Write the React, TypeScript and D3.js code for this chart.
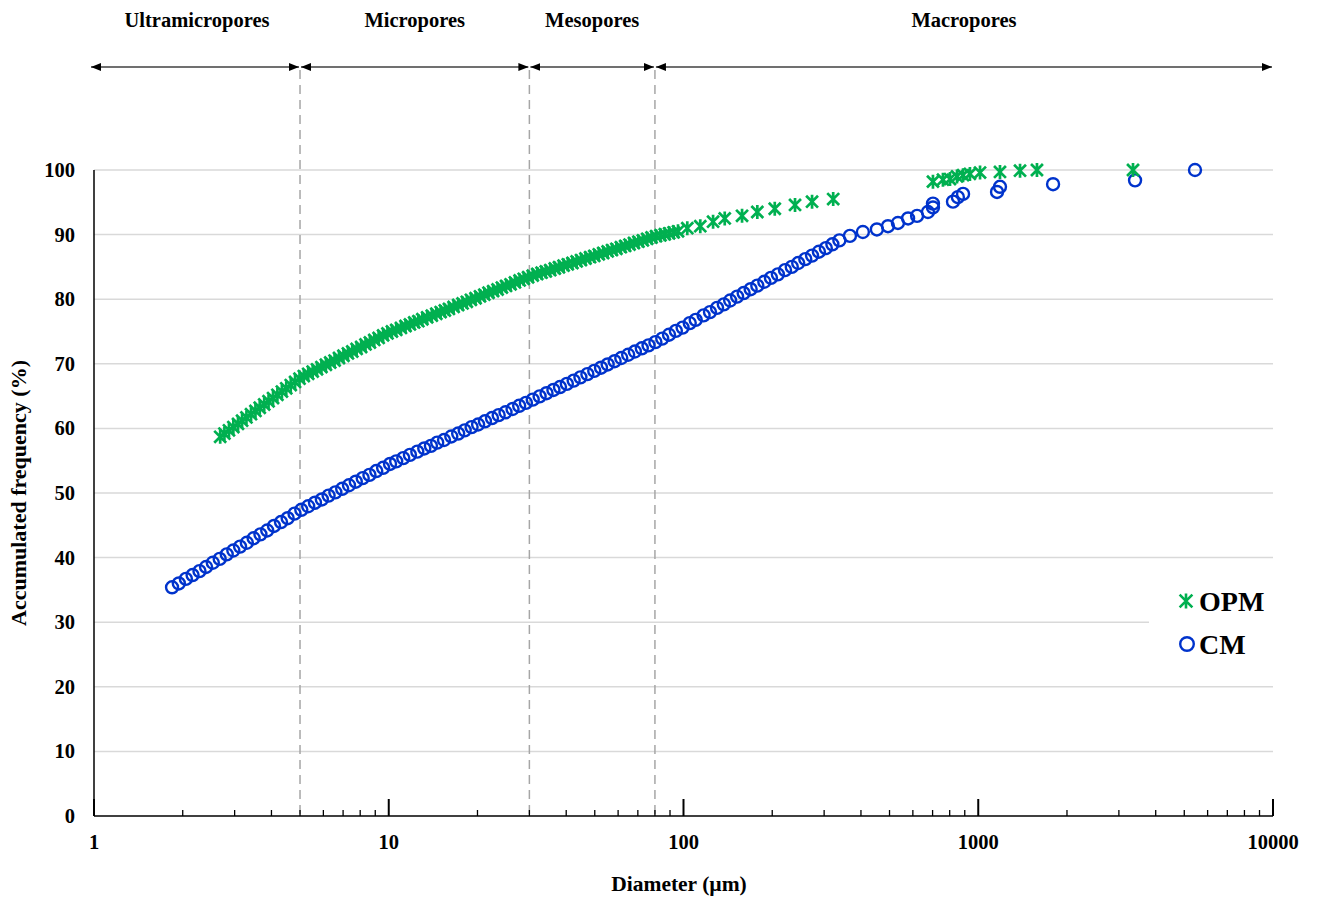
import React from "react";
import * as d3 from "d3";

const W = 1317;
const H = 902;

const cmDiameter = [
  1.84, 1.94, 2.05, 2.16, 2.28, 2.4, 2.53, 2.67, 2.82, 2.97, 3.13, 3.3, 3.48, 3.67, 3.87, 4.08, 4.31, 4.54, 4.79, 5.05,
  5.33, 5.62, 5.93, 6.25, 6.59, 6.95, 7.33, 7.73, 8.16, 8.6, 9.07, 9.57,
  10.1, 10.6, 11.2, 11.8, 12.5, 13.2, 13.9, 14.6, 15.4, 16.3, 17.2, 18.1, 19.1, 20.1, 21.2, 22.4, 23.6, 24.9, 26.3, 27.7, 29.2,
  30.8, 32.5, 34.3, 36.2, 38.1, 40.2, 42.4, 44.7, 47.2, 49.8, 52.5, 55.3, 58.4, 61.5, 64.9, 68.4, 72.2, 76.1,
  80.3, 84.7, 89.3, 94.2, 99.3, 105, 110, 117, 123, 130, 137, 144, 152,
  160, 169, 178, 188, 198, 209, 221, 233, 245, 259, 273, 288, 304, 320, 338,
  367, 406, 453, 494, 534, 578, 620, 675, 702, 702, 821, 853, 888, 1158, 1185, 1794, 3404, 5437,
];
const cmFrequency = [
  35.4, 36.0, 36.7, 37.3, 37.9, 38.55, 39.2, 39.8, 40.5, 41.1, 41.7, 42.3, 43.0, 43.6, 44.2, 44.9, 45.5, 46.1, 46.8, 47.4,
  47.95, 48.5, 49.0, 49.6, 50.1, 50.65, 51.2, 51.75, 52.3, 52.8, 53.4, 53.9,
  54.5, 54.9, 55.4, 55.9, 56.4, 56.9, 57.3, 57.8, 58.2, 58.75, 59.2, 59.7, 60.2, 60.6, 61.1, 61.6, 62.05, 62.5, 63.0, 63.5, 63.95,
  64.45, 64.95, 65.45, 65.95, 66.4, 66.9, 67.4, 67.9, 68.4, 68.9, 69.4, 69.9, 70.4, 70.9, 71.4, 71.9, 72.4, 72.85,
  73.35, 73.9, 74.5, 75.1, 75.6, 76.3, 76.8, 77.5, 78.0, 78.65, 79.2, 79.8, 80.4,
  80.95, 81.55, 82.1, 82.7, 83.3, 83.85, 84.5, 85.0, 85.6, 86.2, 86.75, 87.35, 87.9, 88.5, 89.1,
  89.8, 90.4, 90.8, 91.3, 91.8, 92.5, 92.9, 93.5, 94.2, 94.8, 95.1, 95.8, 96.3, 96.6, 97.4, 97.8, 98.4, 100,
];

const opmDiameter = [
  2.68, 2.77, 2.87, 2.97, 3.08, 3.18, 3.29, 3.41, 3.53, 3.65, 3.78, 3.91, 4.05, 4.19, 4.34, 4.49, 4.65, 4.81, 4.98,
  5.15, 5.33, 5.52, 5.71, 5.91, 6.12, 6.33, 6.55, 6.78, 7.02, 7.27, 7.52, 7.78, 8.06, 8.34, 8.63, 8.93, 9.24, 9.57, 9.9,
  10.25, 10.6, 11.0, 11.4, 11.8, 12.2, 12.6, 13.0, 13.5, 14.0, 14.5, 15.0, 15.5, 16.0, 16.6, 17.2, 17.8, 18.4, 19.0, 19.7,
  20.4, 21.1, 21.8, 22.6, 23.4, 24.2, 25.0, 25.9, 26.8, 27.8, 28.7, 29.7,
  30.8, 31.9, 33.0, 34.1, 35.3, 36.6, 37.8, 39.2, 40.5, 42.0, 43.4, 44.9, 46.5, 48.2, 49.8, 51.6, 53.4, 55.3, 57.2, 59.2,
  61.3, 63.4, 65.6, 67.9, 70.3, 72.8, 75.3, 77.9, 80.7,
  83.5, 86.4, 89.4, 92.6, 95.8,
  103, 114, 126, 138, 158, 178, 204, 239, 273, 322,
  702, 759, 802, 847, 888, 937, 1014, 1185, 1386, 1582, 3350,
];
const opmFrequency = [
  58.7, 59.2, 59.7, 60.2, 60.7, 61.2, 61.7, 62.2, 62.7, 63.2, 63.7, 64.2, 64.7, 65.2, 65.7, 66.2, 66.7, 67.2, 67.7,
  68.1, 68.45, 68.8, 69.15, 69.5, 69.85, 70.2, 70.5, 70.9, 71.25, 71.6, 71.9, 72.3, 72.6, 73.0, 73.3, 73.7, 74.0, 74.4, 74.7,
  75.0, 75.25, 75.55, 75.85, 76.1, 76.4, 76.6, 76.9, 77.2, 77.45, 77.75, 78.0, 78.25, 78.5, 78.8, 79.1, 79.35, 79.6, 79.9, 80.15,
  80.45, 80.7, 81.0, 81.25, 81.5, 81.8, 82.05, 82.3, 82.6, 82.9, 83.15, 83.4,
  83.65, 83.9, 84.1, 84.3, 84.5, 84.75, 84.95, 85.2, 85.4, 85.6, 85.85, 86.05, 86.3, 86.5, 86.7, 86.95, 87.15, 87.4, 87.6, 87.8,
  88.05, 88.25, 88.45, 88.7, 88.9, 89.1, 89.35, 89.55, 89.75,
  89.9, 90.05, 90.2, 90.35, 90.5,
  91.0, 91.3, 92.0, 92.5, 92.9, 93.5, 94.0, 94.6, 95.1, 95.5,
  98.2, 98.5, 98.6, 99.0, 99.2, 99.4, 99.6, 99.7, 99.9, 100, 100,
];

const yTicks = [0, 10, 20, 30, 40, 50, 60, 70, 80, 90, 100];
const xTickLabels = [1, 10, 100, 1000, 10000];
const classBounds = [1, 5, 30, 80, 10000];
const classNames = ["Ultramicropores", "Micropores", "Mesopores", "Macropores"];
const seriesNames = ["OPM", "CM"];

const GREEN = "#00B050";
const BLUE = "#0033CC";
const FONT = "'Liberation Serif', 'Times New Roman', serif";

function starPath(cx: number, cy: number, s: number) {
  const d = s * 0.85;
  return `M${cx},${cy - s}L${cx},${cy + s}M${cx - d},${cy - d}L${cx + d},${cy + d}M${cx - d},${cy + d}L${cx + d},${cy - d}`;
}

export default function App() {
  const x = d3.scaleLog().domain([1, 10000]).range([94, 1273]);
  const y = d3.scaleLinear().domain([0, 100]).range([816, 170]);
  const allTicks = x.ticks(40);
  const isMajor = (v: number) => Math.abs(Math.log10(v) - Math.round(Math.log10(v))) < 1e-9;

  return (
    <svg
      width={W}
      height={H}
      style={{ position: "absolute", left: 0, top: 0, background: "#fff" }}
      fontFamily={FONT}
    >
      <defs>
        <marker id="ah" viewBox="0 0 10 8" refX={10} refY={4} markerWidth={10} markerHeight={8}
          markerUnits="userSpaceOnUse" orient="auto-start-reverse">
          <path d="M0,0L10,4L0,8z" fill="#000" />
        </marker>
      </defs>
      <rect x={0} y={0} width={W} height={H} fill="#fff" />

      {yTicks.filter((t) => t > 0).map((t) => (
        <line key={t} x1={94} x2={1273} y1={y(t)} y2={y(t)} stroke="#D9D9D9" strokeWidth={1.5} />
      ))}

      {classBounds.slice(1, -1).map((b) => (
        <line key={b} x1={x(b)} x2={x(b)} y1={70} y2={816} stroke="#A6A6A6" strokeWidth={1.5} strokeDasharray="9,6" />
      ))}

      {classNames.map((n, i) => {
        const x1 = x(classBounds[i]);
        const x2 = x(classBounds[i + 1]);
        const mid = x(Math.sqrt(classBounds[i] * classBounds[i + 1]));
        return (
          <g key={n}>
            <line x1={x1 + (i === 0 ? -3 : 1)} x2={x2 - 1} y1={67} y2={67} stroke="#404040" strokeWidth={1.6}
              markerStart="url(#ah)" markerEnd="url(#ah)" />
            <text x={mid} y={27} textAnchor="middle" fontSize={20.5} fontWeight="bold">{n}</text>
          </g>
        );
      })}

      <line x1={94} x2={94} y1={170} y2={816} stroke="#000" strokeWidth={1.5} />
      <line x1={94} x2={1273} y1={816} y2={816} stroke="#000" strokeWidth={1.5} />
      {allTicks.map((t, i) => (
        <line key={i} x1={x(t)} x2={x(t)} y1={816} y2={isMajor(t) ? 799 : 810} stroke="#000" strokeWidth={isMajor(t) ? 2 : 1.3} />
      ))}
      {yTicks.map((t) => (
        <text key={t} x={75} y={y(t) + 7} textAnchor="end" fontSize={20.5} fontWeight="bold">{t}</text>
      ))}
      {xTickLabels.map((t) => (
        <text key={t} x={x(t)} y={849} textAnchor="middle" fontSize={20.5} fontWeight="bold">{t}</text>
      ))}
      <text x={679} y={891} textAnchor="middle" fontSize={21.5} fontWeight="bold">Diameter (µm)</text>
      <text transform={`translate(26,493) rotate(-90)`} textAnchor="middle" fontSize={22} fontWeight="bold">
        Accumulated frequency (%)
      </text>

      {cmDiameter.map((d, i) => (
        <circle key={"c" + i} cx={x(d)} cy={y(cmFrequency[i])} r={6} fill="none" stroke={BLUE} strokeWidth={2.4} />
      ))}
      {opmDiameter.map((d, i) => (
        <path key={"o" + i} d={starPath(x(d), y(opmFrequency[i]), 7)} stroke={GREEN} strokeWidth={2.7} fill="none" />
      ))}

      <rect x={1149} y={580} width={124} height={84} fill="#fff" />
      <path d={starPath(1186, 601, 7.5)} stroke={GREEN} strokeWidth={2.6} fill="none" />
      <text x={1199} y={611} fontSize={28} fontWeight="bold">{seriesNames[0]}</text>
      <circle cx={1187} cy={644} r={6.8} fill="none" stroke={BLUE} strokeWidth={2.4} />
      <text x={1199} y={654} fontSize={28} fontWeight="bold">{seriesNames[1]}</text>
    </svg>
  );
}
